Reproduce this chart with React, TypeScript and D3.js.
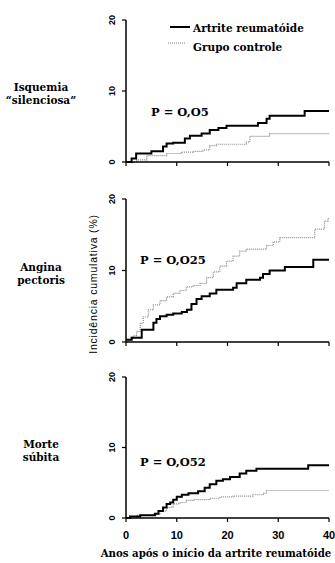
import * as d3 from 'd3';

// anos após o início da AR -> incidência cumulativa (%)
const isquemiaAR: [number, number][] = [
  [0, 0], [1.1, 0.5], [2, 1.2], [5, 1.5], [7.3, 2.2], [8, 2.6], [9.3, 2.7], [11.6, 3.3],
  [12.6, 3.7], [14.9, 4.0], [16.5, 4.5], [18.2, 4.8], [19.8, 5.1], [26, 5.5], [27.7, 6.1],
  [28.3, 6.5], [35.2, 7.2], [40, 7.2],
];
const isquemiaCtrl: [number, number][] = [
  [0, 0], [2.1, 0.3], [4.1, 0.9], [8, 1.2], [10.9, 1.4], [13.2, 1.5], [15.2, 1.7],
  [16.5, 2.3], [17.8, 2.5], [23.7, 2.8], [24.4, 3.6], [28.3, 4.0], [40, 4.0],
];
const anginaAR: [number, number][] = [
  [0, 0.3], [1.1, 0.6], [3.1, 1.7], [5.4, 2.7], [6, 3.2], [6.7, 3.6], [8, 3.8], [9.3, 4.0],
  [11, 4.2], [12, 4.5], [12.9, 5.3], [13.9, 6.0], [14.9, 6.4], [16.5, 6.8], [17.8, 7.3],
  [21.1, 7.6], [21.8, 8.2], [23.7, 8.7], [26.4, 9.0], [27, 9.5], [28.3, 10.0], [31.3, 10.5],
  [36.9, 11.5], [40, 11.5],
];
const anginaCtrl: [number, number][] = [
  [0, 0.3], [1.4, 0.9], [2.1, 1.5], [2.8, 2.6], [3.4, 3.5], [4.4, 4.5], [5.4, 5.2],
  [6.7, 5.8], [8, 6.3], [9.3, 6.8], [10.6, 7.2], [11.9, 7.7], [13.2, 7.9], [14.6, 8.2],
  [15.9, 9.0], [17.2, 9.8], [18.5, 10.6], [19.8, 11.3], [21.1, 12.0], [22.4, 12.7],
  [23.7, 13.0], [27.7, 13.5], [29, 14.0], [30.3, 14.6], [37.2, 15.8], [39.1, 16.9],
  [39.8, 17.3], [40, 17.3],
];
const morteAR: [number, number][] = [
  [0, 0], [0.8, 0.2], [2.8, 0.4], [5.7, 0.6], [6.4, 1.0], [7.3, 1.5], [8, 2.0], [8.7, 2.2],
  [9.3, 2.6], [10, 3.0], [11, 3.3], [12.3, 3.5], [14.2, 3.8], [15.5, 4.3], [16.5, 4.8],
  [17.8, 5.3], [19.1, 5.5], [20.5, 5.8], [22.4, 6.3], [23.7, 6.7], [25.7, 7.0], [35.9, 7.5],
  [40, 7.5],
];
const morteCtrl: [number, number][] = [
  [0, 0], [1, 0.2], [2.1, 0.4], [5.4, 0.5], [6.7, 1.0], [8, 1.5], [9.3, 2.0], [10.6, 2.2],
  [11.9, 2.5], [13.2, 2.6], [16.5, 2.8], [18.5, 3.0], [21.1, 3.1], [25, 3.3], [27, 3.5],
  [27.7, 3.9], [40, 3.9],
];

const panelNames = [['Isquemia', '“silenciosa”'], ['Angina', 'pectoris'], ['Morte', 'súbita']];
const pValues = ['P = O,O5', 'P = O,O25', 'P = O,O52'];
const xTicks = [0, 10, 20, 30, 40];
const yTicks = [0, 10, 20];

const panels = [
  { ar: isquemiaAR, ctrl: isquemiaCtrl, top: 20, bottom: 162, pX: 151, pY: 116 },
  { ar: anginaAR, ctrl: anginaCtrl, top: 199, bottom: 342, pX: 140, pY: 264 },
  { ar: morteAR, ctrl: morteCtrl, top: 377, bottom: 518, pX: 140, pY: 466 },
];

const serif = "'DejaVu Serif', 'Liberation Serif', serif";
const narrow = "'Liberation Sans Narrow', 'Liberation Sans', Arial, sans-serif";
const sans = "'Liberation Sans', Arial, sans-serif";

const x = d3.scaleLinear().domain([0, 40]).range([126, 329]);

export default function App() {
  return (
    <div style={{ position: 'absolute', left: 0, top: 0 }}>
      <svg width={335} height={563} style={{ display: 'block', background: '#fff' }}>
        {panels.map((p, i) => {
          const y = d3.scaleLinear().domain([0, 20]).range([p.bottom, p.top]);
          const line = d3
            .line<[number, number]>()
            .x((d) => x(d[0]))
            .y((d) => y(d[1]))
            .curve(d3.curveStepAfter);
          const midY = y(10);
          return (
            <g key={i}>
              <text x={41} y={midY} textAnchor="middle" style={{ fontFamily: serif }} fontWeight="bold" fontSize={10.5}>
                {panelNames[i][0]}
              </text>
              <text x={41} y={midY + 13} textAnchor="middle" style={{ fontFamily: serif }} fontWeight="bold" fontSize={10.5}>
                {panelNames[i][1]}
              </text>
              <path d={line(p.ctrl)!} fill="none" stroke="#8a8a8a" strokeWidth={1.2} strokeDasharray="1,1" />
              <path d={line(p.ar)!} fill="none" stroke="#000" strokeWidth={2} />
              {/* eixos */}
              <line x1={x(0)} x2={x(0)} y1={y(20)} y2={y(0)} stroke="#000" strokeWidth={1.5} />
              <line x1={x(0)} x2={x(40)} y1={y(0)} y2={y(0)} stroke="#000" strokeWidth={1.5} />
              {yTicks.map((t) => (
                <g key={t}>
                  <line x1={x(0) - 4} x2={x(0)} y1={y(t)} y2={y(t)} stroke="#000" strokeWidth={1.2} />
                  <text
                    transform={`translate(${x(0) - 11},${y(t)}) rotate(-90)`}
                    textAnchor="middle"
                    style={{ fontFamily: sans }}
                    fontWeight="bold"
                    fontSize={9}
                  >
                    {t}
                  </text>
                </g>
              ))}
              {xTicks.map((t) => (
                <line key={t} x1={x(t)} x2={x(t)} y1={y(0)} y2={y(0) + 4} stroke="#000" strokeWidth={1.2} />
              ))}
              {i === 2 &&
                xTicks.map((t) => (
                  <text key={t} x={x(t)} y={y(0) + 21} textAnchor="middle" style={{ fontFamily: narrow }} fontWeight="bold" fontSize={11}>
                    {t}
                  </text>
                ))}
              <text x={p.pX} y={p.pY} style={{ fontFamily: serif }} fontWeight="bold" fontSize={11.5}>
                {pValues[i]}
              </text>
            </g>
          );
        })}
        {/* legenda */}
        <line x1={170} x2={190} y1={27} y2={27} stroke="#000" strokeWidth={2} />
        <text x={193} y={32} style={{ fontFamily: serif }} fontWeight="bold" fontSize={10.5}>Artrite reumatóide</text>
        <line x1={168} x2={185} y1={43} y2={43} stroke="#8a8a8a" strokeWidth={1.2} strokeDasharray="1,1" />
        <text x={193} y={51} style={{ fontFamily: serif }} fontWeight="bold" fontSize={10.5}>Grupo controle</text>
        {/* títulos dos eixos */}
        <text
          transform="translate(97,284) rotate(-90)"
          textAnchor="middle"
          style={{ fontFamily: sans }}
          fontSize={10.5}
          letterSpacing={0.8}
        >
          Incidência cumulativa (%)
        </text>
        <text x={216} y={557} textAnchor="middle" style={{ fontFamily: serif }} fontWeight="bold" fontSize={10.2}>
          Anos após o início da artrite reumatóide
        </text>
      </svg>
    </div>
  );
}
